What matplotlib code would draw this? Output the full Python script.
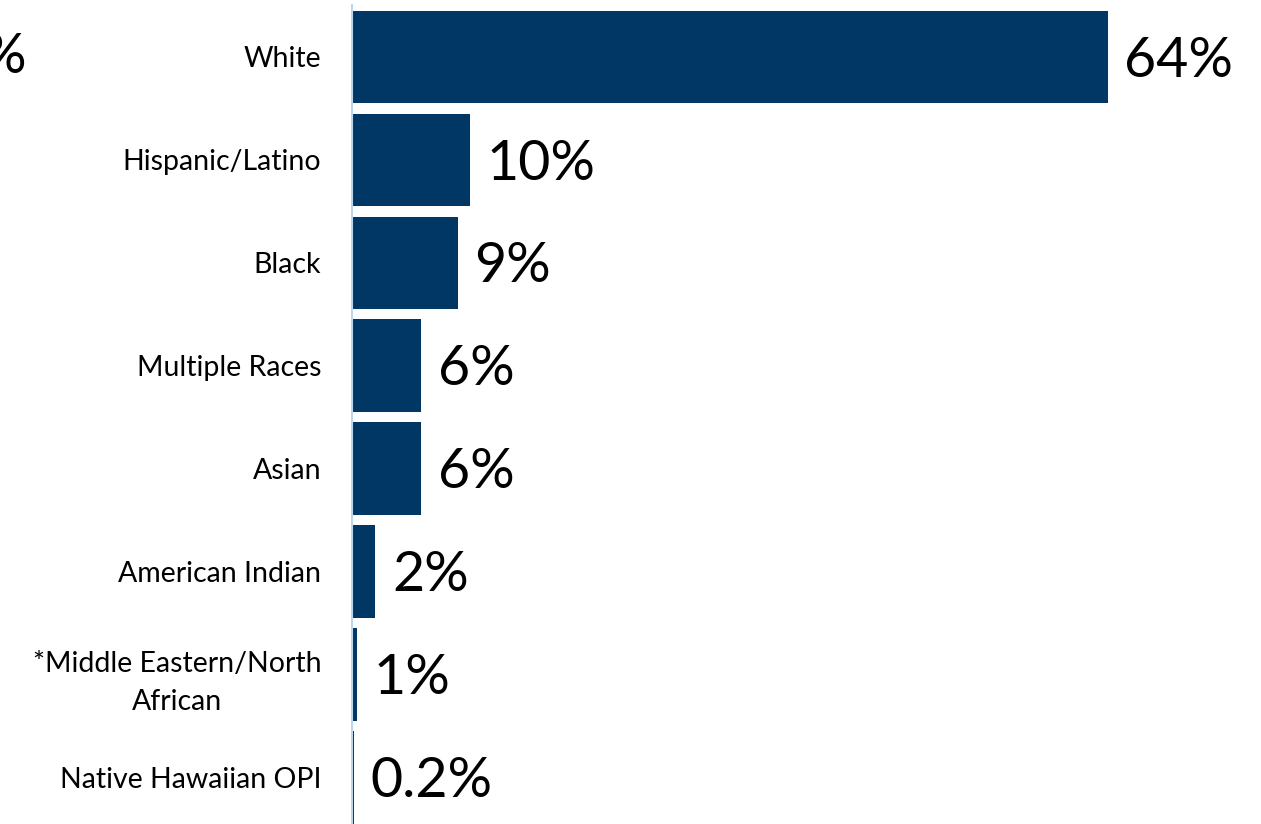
import matplotlib
matplotlib.use("Agg")
import matplotlib.pyplot as plt

# race / ethnicity shares (percent)
groups = ["White", "Hispanic/Latino", "Black", "Multiple Races", "Asian",
          "American Indian", "*Middle Eastern/North\nAfrican", "Native Hawaiian OPI"]
shares = [64.0, 10.0, 9.0, 5.9, 5.9, 2.0, 0.4, 0.15]
share_labels = ["64%", "10%", "9%", "6%", "6%", "2%", "1%", "0.2%"]

plt.rcParams["font.family"] = ["Lato", "DejaVu Sans"]

fig = plt.figure(figsize=(12.61, 8.24), dpi=100)
ax = fig.add_axes([0.279, 0.0, 0.721, 0.994])

y = list(range(len(groups)))
ax.barh(y, shares, height=0.9, color="#003764")

for yi, v, lab in zip(y, shares, share_labels):
    ax.text(v + 1.4, yi + 0.04, lab, va="center", ha="left", fontsize=40, color="black")

ax.set_ylim(len(groups) - 0.55, -0.505)
ax.set_xlim(0, 77)
ax.set_yticks(y)
ax.set_yticklabels(groups, fontsize=20.5, ha="right", multialignment="center",
                   linespacing=1.55)
ax.tick_params(axis="y", length=0, pad=22)
ax.set_xticks([])

for s in ["top", "right", "bottom"]:
    ax.spines[s].set_visible(False)
ax.spines["left"].set_color("#BDD7EE")
ax.spines["left"].set_linewidth(1.5)

# leftover label cut at the left edge
fig.text(0.021, 0.93, "%", fontsize=40, ha="right", va="center")

fig.savefig("out.png", dpi=100)
